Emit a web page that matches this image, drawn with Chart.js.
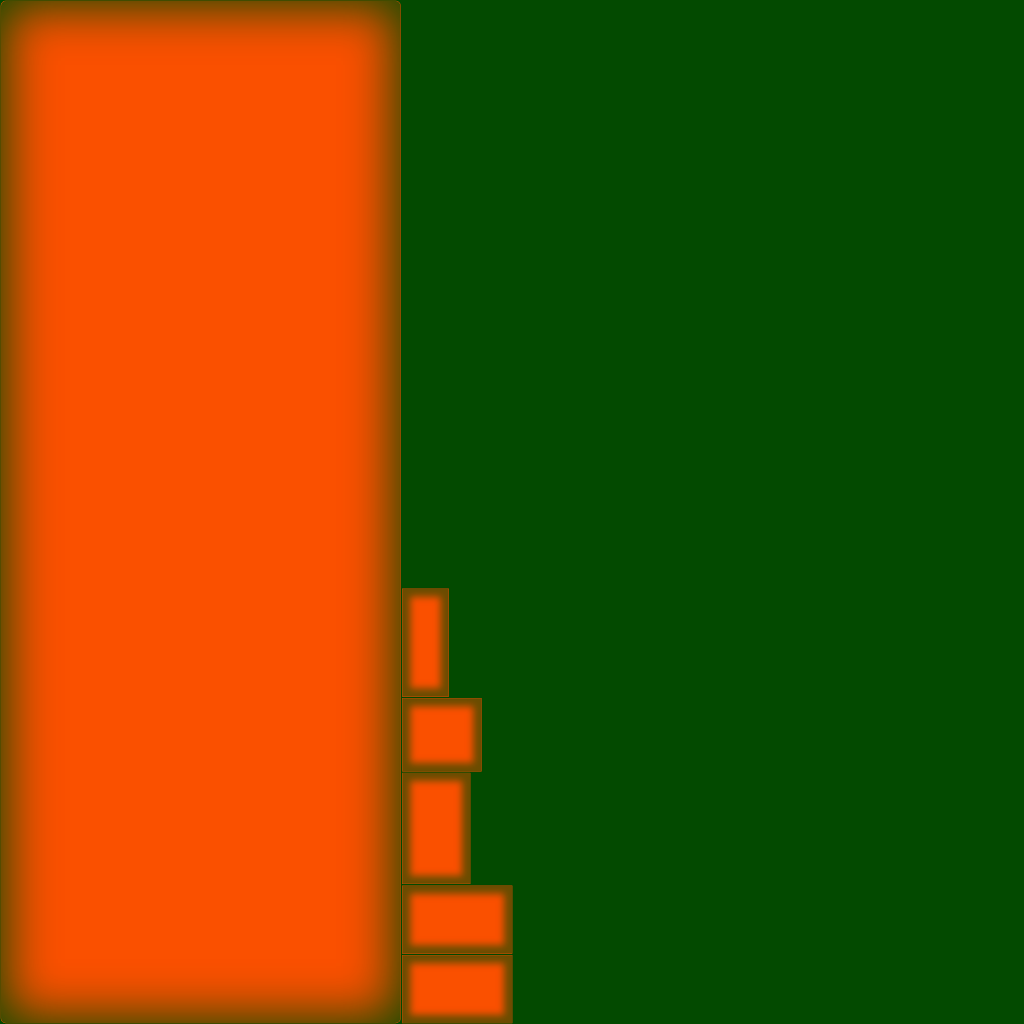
<!DOCTYPE html>
<html>
<head>
<meta charset="utf-8">
<script src="https://cdn.jsdelivr.net/npm/chart.js@4/dist/chart.umd.min.js"></script>
<style>
  html, body { margin: 0; padding: 0; background: rgb(3,74,0); }
  #wrap { width: 1024px; height: 1024px; position: relative; background: rgb(3,74,0); }
</style>
</head>
<body>
<div id="wrap"><canvas id="c"></canvas></div>
<script>
// ---- data (percent of the full extent on each axis) ----
const categories = ['A', 'B', 'C', 'D', 'E', 'F'];
const rangeStart = [0, 39.2, 39.2, 39.2, 39.2, 39.2];
const rangeEnd   = [39.2, 43.9, 47.1, 46.0, 50.1, 50.1];
const bandLow    = [0, 31.9, 24.6, 13.6, 6.8, 0];
const bandHigh   = [100, 42.6, 31.9, 24.6, 13.6, 6.8];

// ---- styles ----
const ORANGE = 'rgb(250,80,0)';
const GREEN = 'rgb(3,74,0)';

const datasets = categories.map((name, i) => ({
  label: name,
  data: [{ y: (bandLow[i] + bandHigh[i]) / 2, x: [rangeStart[i], rangeEnd[i]] }],
  backgroundColor: ORANGE,
  borderColor: GREEN,
  borderWidth: 1,
  borderSkipped: false,
  borderRadius: i === 0 ? 6 : 0,
  barThickness: (ctx) => {
    const s = ctx.chart.scales && ctx.chart.scales.y;
    if (!s) return 10;
    const t = Math.abs(s.getPixelForValue(bandHigh[i]) - s.getPixelForValue(bandLow[i]));
    return isFinite(t) && t > 0 ? t : 10;
  }
}));

function glow(ctx, left, top, w, h, r, inset, blur, col) {
  const OFF = 6000;
  ctx.save();
  ctx.beginPath();
  ctx.roundRect(left + 1, top + 1, w - 2, h - 2, r);
  ctx.clip();
  ctx.shadowColor = col;
  ctx.shadowBlur = blur;
  ctx.shadowOffsetX = OFF;
  ctx.shadowOffsetY = 0;
  ctx.beginPath();
  ctx.rect(left - OFF - 300, top - 300, w + 600, h + 600);
  ctx.roundRect(left - OFF + inset, top + inset, w - 2 * inset, h - 2 * inset, r);
  ctx.fillStyle = '#000';
  ctx.fill('evenodd');
  ctx.restore();
}

const innerGlow = {
  id: 'innerGlow',
  afterDatasetsDraw(chart) {
    const ctx = chart.ctx;
    chart.data.datasets.forEach((ds, di) => {
      const meta = chart.getDatasetMeta(di);
      meta.data.forEach((el) => {
        const p = el.getProps(['x', 'y', 'base', 'height'], true);
        const left = Math.min(p.x, p.base), right = Math.max(p.x, p.base);
        const top = p.y - p.height / 2, bottom = p.y + p.height / 2;
        const w = right - left, h = bottom - top;
        const big = Math.min(w, h) > 150;
        const r = di === 0 ? 5 : 0;
        if (big) {
          glow(ctx, left, top, w, h, r, 8, 48, 'rgba(3,74,0,0.9)');
        } else {
          glow(ctx, left, top, w, h, r, 9, 7, 'rgba(3,74,0,0.58)');
        }
      });
    });
  }
};

const chart = new Chart(document.getElementById('c'), {
  type: 'bar',
  data: { labels: categories, datasets },
  options: {
    indexAxis: 'y',
    responsive: true,
    maintainAspectRatio: false,
    animation: false,
    layout: { padding: 0 },
    plugins: { legend: { display: false }, tooltip: { enabled: false }, title: { display: false } },
    scales: {
      x: { type: 'linear', min: 0, max: 100, display: false, stacked: false, grid: { display: false } },
      y: { type: 'linear', min: 0, max: 100, display: false, stacked: true, offset: false, grid: { display: false } }
    }
  },
  plugins: [innerGlow]
});
chart.update();
</script>
</body>
</html>
